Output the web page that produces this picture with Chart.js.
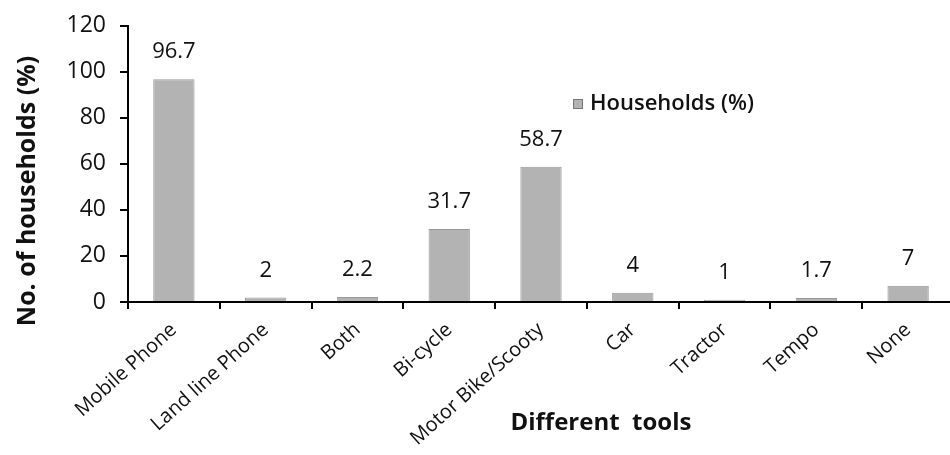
<!DOCTYPE html>
<html>
<head>
<meta charset="utf-8">
<script src="https://cdn.jsdelivr.net/npm/chart.js@4.4.1/dist/chart.umd.min.js"></script>
<style>
  html, body { margin: 0; padding: 0; background: #fff; overflow: hidden; }
  #wrap { position: relative; width: 956px; height: 455px; }
</style>
</head>
<body>
<div id="wrap"><canvas id="c"></canvas></div>
<script>
// Ownership of tools per household
const categories = ['Mobile Phone', 'Land line Phone', 'Both', 'Bi-cycle', 'Motor Bike/Scooty', 'Car', 'Tractor', 'Tempo', 'None'];
const householdsPct = [96.7, 2, 2.2, 31.7, 58.7, 4, 1, 1.7, 7];
const yTicks = [0, 20, 40, 60, 80, 100, 120];
const seriesName = 'Households (%)';
const yTitle = 'No. of households (%)';
const xTitle = 'Different  tools';

const FONT = "'Open Sans', 'Liberation Sans', sans-serif";
const BAR_FILL = '#b3b3b3';
const BAR_EDGE = '#999';
const INK = '#111';

// value labels above each bar, plus axis titles and the legend key
const annotate = {
  id: 'annotate',
  afterDatasetsDraw(chart) {
    const ctx = chart.ctx;
    const meta = chart.getDatasetMeta(0);
    ctx.save();
    ctx.fillStyle = INK;
    ctx.font = '22px ' + FONT;
    ctx.textAlign = 'center';
    ctx.textBaseline = 'middle';
    meta.data.forEach((bar, i) => {
      ctx.fillText(String(householdsPct[i]), bar.x, bar.y - 27);
    });
    ctx.restore();
  },
  afterDraw(chart) {
    const ctx = chart.ctx;
    const area = chart.chartArea;
    ctx.save();
    ctx.fillStyle = INK;
    // x axis title
    ctx.font = 'bold 24px ' + FONT;
    ctx.textAlign = 'center';
    ctx.textBaseline = 'middle';
    ctx.fillText(xTitle, area.left + 473, 423);
    // y axis title
    ctx.font = 'bold 25px ' + FONT;
    ctx.save();
    ctx.translate(28, 191);
    ctx.rotate(-Math.PI / 2);
    ctx.fillText(yTitle, 0, 0);
    ctx.restore();
    // legend
    ctx.fillStyle = BAR_FILL;
    ctx.fillRect(area.left + 445, 99, 9, 9);
    ctx.strokeStyle = '#777';
    ctx.lineWidth = 1;
    ctx.strokeRect(area.left + 445.5, 99.5, 9, 9);
    ctx.fillStyle = INK;
    ctx.font = '600 22px ' + FONT;
    ctx.textAlign = 'left';
    ctx.fillText(seriesName, area.left + 462, 104);
    ctx.restore();
  }
};

new Chart(document.getElementById('c'), {
  type: 'bar',
  data: {
    labels: categories,
    datasets: [{
      label: seriesName,
      data: householdsPct,
      backgroundColor: BAR_FILL,
      borderColor: BAR_EDGE,
      borderWidth: 1,
      barPercentage: 0.45,
      categoryPercentage: 1
    }]
  },
  options: {
    responsive: true,
    maintainAspectRatio: false,
    animation: false,
    layout: { padding: { left: 0, right: 2, top: 25, bottom: 0 } },
    plugins: {
      legend: { display: false },
      tooltip: { enabled: false }
    },
    scales: {
      x: {
        border: { color: '#000', width: 2 },
        grid: { drawOnChartArea: false, drawTicks: true, tickLength: 7, color: '#000', lineWidth: 2, offset: true },
        ticks: { color: INK, font: { family: FONT, size: 20 }, minRotation: 42, maxRotation: 42, padding: 9, autoSkip: false },
        afterFit(scale) { scale.height = 153; }
      },
      y: {
        min: 0,
        max: 120,
        border: { color: '#000', width: 2 },
        grid: { drawOnChartArea: false, drawTicks: true, tickLength: 8, color: '#000', lineWidth: 2 },
        afterBuildTicks(scale) { scale.ticks = yTicks.map(v => ({ value: v })); },
        ticks: { color: INK, font: { family: FONT, size: 23, lineHeight: 1 }, padding: 14 },
        afterFit(scale) { scale.width = 128; }
      }
    }
  },
  plugins: [annotate]
});
</script>
</body>
</html>
